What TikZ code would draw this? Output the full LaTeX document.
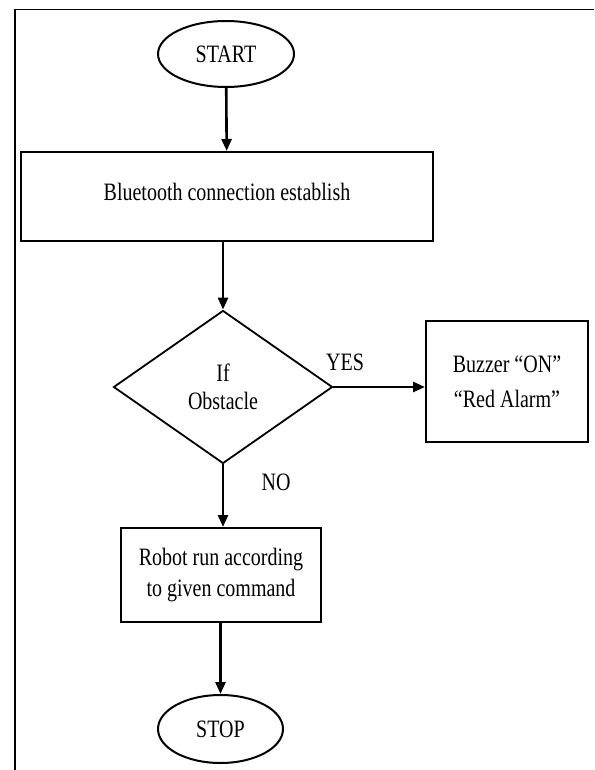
\documentclass[tikz,border=0pt]{standalone}
\usepackage{fontspec}
\setmainfont{Liberation Serif}[FakeStretch=0.8]
\usepackage{tikz}
\usetikzlibrary{shapes.geometric,arrows.meta}

\begin{document}
\begin{tikzpicture}[x=1pt, y=-1pt,
    every node/.style={font=\fontsize{25}{31}\selectfont, align=center, inner sep=0pt},
    term/.style={draw, ellipse, line width=2pt},
    proc/.style={draw, rectangle, line width=2pt},
    test/.style={draw, diamond, line width=1.8pt},
    flow/.style={line width=2.6pt, -{Triangle[length=12pt,width=10pt]}}]

  \useasboundingbox (0,0) rectangle (594,770);

  %% frame
  \coordinate (tr) at (594,9.5);
  \coordinate (tl) at (15,9.5);
  \coordinate (bl) at (15,770);
  \draw[line width=1.6pt] (tr) -- (tl) -- (bl);

  \node[term, minimum width=136pt, minimum height=66pt] (start) at (226,54) {START};
  \node[proc, minimum width=412pt, minimum height=89pt] (conn) at (227,196.5)
    {\raisebox{10pt}{Bluetooth connection establish}};
  \node[test, minimum width=219pt, minimum height=153pt] (obst) at (223,387) {If\\[-3pt]Obstacle};
  \node[proc, minimum width=162pt, minimum height=121pt] (alarm) at (507,381.5)
    {Buzzer “ON”\\[4pt]“Red Alarm”};
  \node[proc, minimum width=200pt, minimum height=94pt] (run) at (221,575)
    {Robot run according\\to given command};
  \node[term, minimum width=125pt, minimum height=68pt] (stop) at (220.5,729) {STOP};

  \node (yes) at (345,362) {YES};
  \node (no) at (276,482) {NO};

  \draw[flow] (start) -- (conn); %% start->conn
  \draw[flow] (conn.south -| obst.north) -- (obst.north); %% conn->obst
  \draw[flow] (obst.east) -- (alarm.west |- obst.east); %% YES
  \draw[flow] (obst.south) -- (run.north -| obst.south); %% NO
  \draw[flow] (run.south -| stop.north) -- (stop.north); %% run->stop

\end{tikzpicture}
\end{document}
